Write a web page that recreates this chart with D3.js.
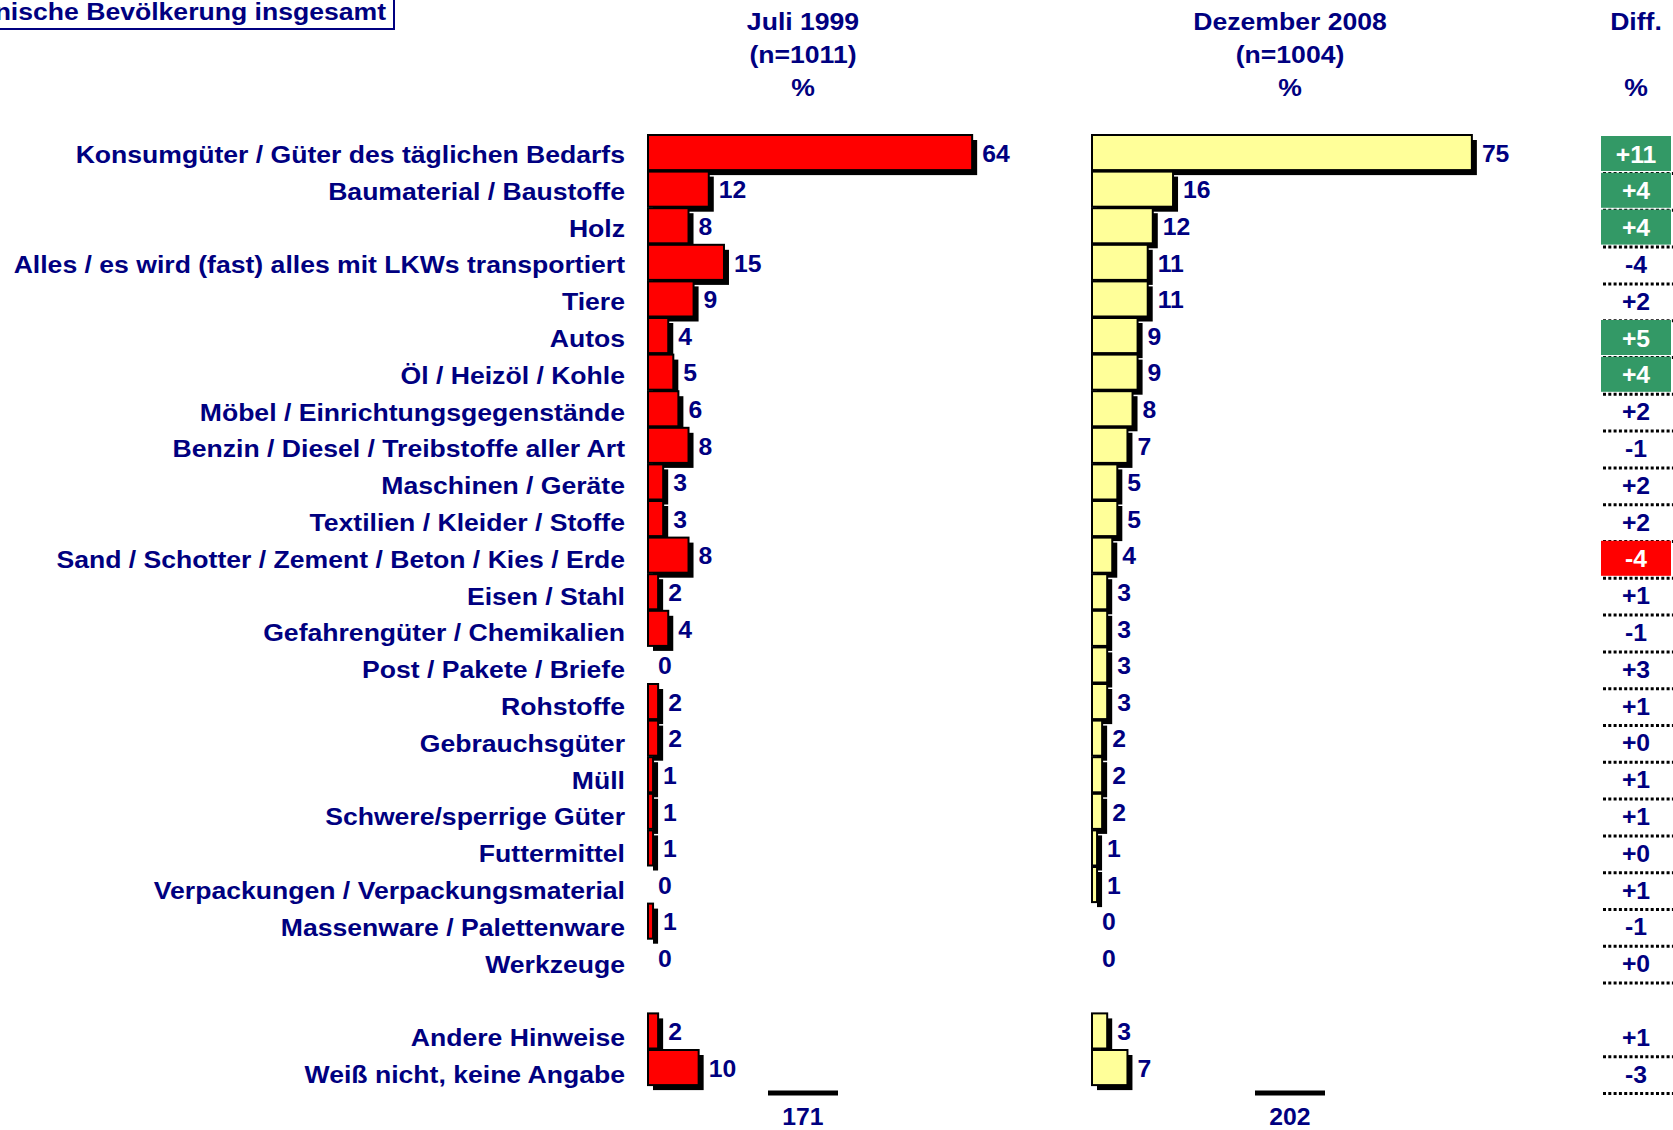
<!DOCTYPE html>
<html>
<head>
<meta charset="utf-8">
<script src="https://cdn.jsdelivr.net/npm/d3@7"></script>
<style>
  html, body { margin: 0; padding: 0; background: #fff; }
  svg { display: block; }
  text { font-family: "Liberation Sans", Arial, Helvetica, sans-serif; font-weight: bold; }
</style>
</head>
<body>
<svg id="chart" width="1673" height="1130"></svg>
<script>
// ---------------- data ----------------
const categories = [
  "Konsumgüter / Güter des täglichen Bedarfs",
  "Baumaterial / Baustoffe",
  "Holz",
  "Alles / es wird (fast) alles mit LKWs transportiert",
  "Tiere",
  "Autos",
  "Öl / Heizöl / Kohle",
  "Möbel / Einrichtungsgegenstände",
  "Benzin / Diesel / Treibstoffe aller Art",
  "Maschinen / Geräte",
  "Textilien / Kleider / Stoffe",
  "Sand / Schotter / Zement / Beton / Kies / Erde",
  "Eisen / Stahl",
  "Gefahrengüter / Chemikalien",
  "Post / Pakete / Briefe",
  "Rohstoffe",
  "Gebrauchsgüter",
  "Müll",
  "Schwere/sperrige Güter",
  "Futtermittel",
  "Verpackungen / Verpackungsmaterial",
  "Massenware / Palettenware",
  "Werkzeuge",
  "Andere Hinweise",
  "Weiß nicht, keine Angabe"
];
const juli1999     = [64, 12, 8, 15, 9, 4, 5, 6, 8, 3, 3, 8, 2, 4, 0, 2, 2, 1, 1, 1, 0, 1, 0, 2, 10];
const dezember2008 = [75, 16, 12, 11, 11, 9, 9, 8, 7, 5, 5, 4, 3, 3, 3, 3, 2, 2, 2, 1, 1, 0, 0, 3, 7];
const diffLabels   = ["+11","+4","+4","-4","+2","+5","+4","+2","-1","+2","+2","-4","+1","-1","+3","+1","+0","+1","+1","+0","+1","-1","+0","+1","-3"];
// significance highlight: 1 = significant increase, -1 = significant decrease, 0 = none
const diffSignif   = [1, 1, 1, 0, 0, 1, 1, 0, 0, 0, 0, -1, 0, 0, 0, 0, 0, 0, 0, 0, 0, 0, 0, 0, 0];
const seriesHeaders = [
  ["Juli 1999", "(n=1011)", "%"],
  ["Dezember 2008", "(n=1004)", "%"]
];
const diffHeader = ["Diff.", "", "%"];
const titleText = "nische Bevölkerung insgesamt";

// ---------------- layout ----------------
const svg = d3.select("#chart");
const NAVY = "#000080";
const STRETCH = 1.108;
const slots = categories.map((c, i) => i < 23 ? i : i + 1); // gap row before "Andere Hinweise"
const nSlots = 26;

// bar rows
const yBar = d3.scaleBand().domain(d3.range(nSlots)).range([135, 135 + 36.6 * nSlots]).paddingInner(0);
// label / diff rows
const yLab = d3.scaleBand().domain(d3.range(nSlots)).range([136, 136 + 36.8 * nSlots]).paddingInner(0);

const xLen = d3.scaleLinear().domain([0, 100]).range([0, 506.5]);
const panels = [
  { values: juli1999, x0: 648, fill: "#FF0000", center: 803, header: seriesHeaders[0] },
  { values: dezember2008, x0: 1092, fill: "#FFFF99", center: 1290, header: seriesHeaders[1] }
];
const diffX0 = 1601, diffW = 70, diffCenter = 1636;

function stretchedText(g, x, y, txt, anchor, size, sx, fill) {
  return g.append("text")
    .attr("transform", `translate(${x},${y}) scale(${sx},1)`)
    .attr("text-anchor", anchor)
    .attr("font-size", size)
    .attr("fill", fill || NAVY)
    .text(txt);
}

// title box
svg.append("rect").attr("x", -4).attr("y", -4).attr("width", 398).attr("height", 33)
  .attr("fill", "none").attr("stroke", NAVY).attr("stroke-width", 2);
stretchedText(svg, 386, 20, titleText, "end", 24, STRETCH);

// category labels
const labG = svg.append("g");
categories.forEach((c, i) => {
  const yc = yLab(slots[i]) + yLab.bandwidth() / 2;
  stretchedText(labG, 625, yc + 8.5, c, "end", 24, STRETCH);
});

// panels
const shadowOff = 5;
panels.forEach(p => {
  const g = svg.append("g");
  // headers
  p.header.forEach((h, k) => {
    if (h) stretchedText(g, p.center, 30 + k * 33, h, "middle", 24, STRETCH);
  });
  const data = p.values.map((v, i) => ({ v, slot: slots[i] }));
  // shadows
  g.selectAll("rect.shadow").data(data.filter(d => d.v > 0)).join("rect")
    .attr("class", "shadow")
    .attr("x", p.x0 + shadowOff)
    .attr("y", d => yBar(d.slot) + shadowOff)
    .attr("width", d => xLen(d.v))
    .attr("height", yBar.bandwidth() - 1.5)
    .attr("fill", "#000");
  // bars
  g.selectAll("rect.bar").data(data.filter(d => d.v > 0)).join("rect")
    .attr("class", "bar")
    .attr("x", p.x0)
    .attr("y", d => yBar(d.slot))
    .attr("width", d => xLen(d.v))
    .attr("height", yBar.bandwidth() - 1.5)
    .attr("fill", p.fill)
    .attr("stroke", "#000")
    .attr("stroke-width", 2);
  // value labels
  data.forEach(d => {
    const yc = yBar(d.slot) + yBar.bandwidth() / 2;
    stretchedText(g, p.x0 + xLen(d.v) + 10, yc + 8.5, String(d.v), "start", 24, 1.03);
  });
  // total
  const total = d3.sum(p.values);
  g.append("line")
    .attr("x1", p.center - 35).attr("x2", p.center + 35)
    .attr("y1", 1093).attr("y2", 1093)
    .attr("stroke", "#000").attr("stroke-width", 5);
  stretchedText(g, p.center, 1125, String(total), "middle", 24, 1.03);
});

// diff column
const dg = svg.append("g");
diffHeader.forEach((h, k) => {
  if (h) stretchedText(dg, diffCenter, 30 + k * 33, h, "middle", 24, STRETCH);
});
diffLabels.forEach((t, i) => {
  const top = yLab(slots[i]);
  const s = diffSignif[i];
  if (s !== 0) {
    dg.append("rect").attr("x", diffX0).attr("y", top).attr("width", diffW).attr("height", 35)
      .attr("fill", s > 0 ? "#339966" : "#FF0000");
  }
  dg.append("line")
    .attr("x1", diffX0 + 2).attr("x2", 1673)
    .attr("y1", top + 37.5).attr("y2", top + 37.5)
    .attr("stroke", "#000").attr("stroke-width", 3)
    .attr("stroke-dasharray", "3,2.3");
  stretchedText(dg, diffCenter, top + 18 + 8.5, t, "middle", 24, 1.03, s !== 0 ? "#FFFFFF" : NAVY);
});
</script>
</body>
</html>
